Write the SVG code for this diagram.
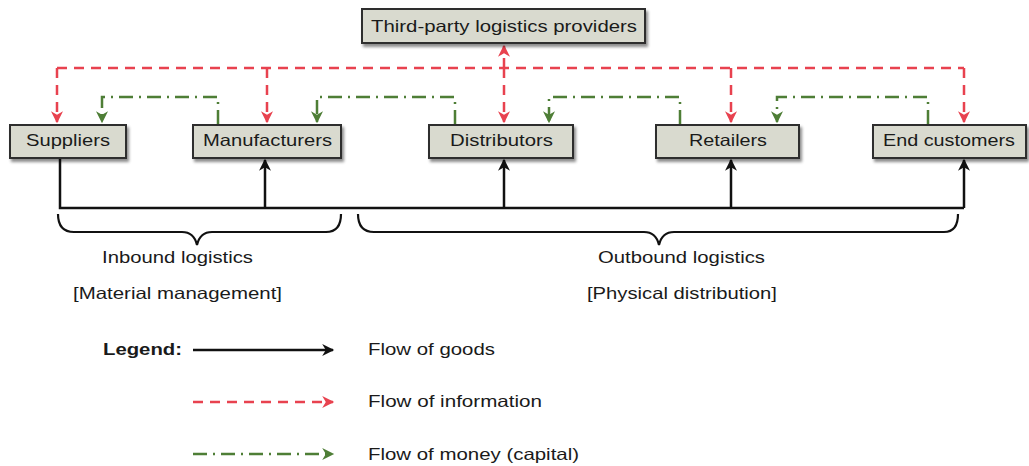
<svg xmlns="http://www.w3.org/2000/svg" width="1029" height="466" viewBox="0 0 1029 466">
<defs>
<style>
.box{fill:#d9dacf;stroke:#2e2e2e;stroke-width:2}
.t{font-family:"Liberation Sans",Arial,sans-serif;font-size:16.5px;fill:#1a1a1a}
.goods{stroke:#111;stroke-width:2.5;fill:none}
.info{stroke:#e8424f;stroke-width:2.5;fill:none;stroke-dasharray:10 7}
.money{stroke:#4e7e36;stroke-width:2.5;fill:none;stroke-dasharray:14 6 2 6}
.brace{stroke:#111;stroke-width:2.2;fill:none}
</style>
<filter id="sh" x="-10%" y="-20%" width="130%" height="160%">
<feDropShadow dx="2" dy="3" stdDeviation="1.8" flood-color="#000" flood-opacity="0.45"/>
</filter>
<marker id="ak" viewBox="0 0 10 10" refX="9" refY="5" markerWidth="13" markerHeight="12" orient="auto" markerUnits="userSpaceOnUse">
<path d="M0,0 L10,5 L0,10 L3,5 z" fill="#111"/>
</marker>
<marker id="ar" viewBox="0 0 10 10" refX="9" refY="5" markerWidth="13" markerHeight="12" orient="auto" markerUnits="userSpaceOnUse">
<path d="M0,0 L10,5 L0,10 L3,5 z" fill="#e8424f"/>
</marker>
<marker id="ag" viewBox="0 0 10 10" refX="9" refY="5" markerWidth="13" markerHeight="12" orient="auto" markerUnits="userSpaceOnUse">
<path d="M0,0 L10,5 L0,10 L3,5 z" fill="#4e7e36"/>
</marker>
</defs>
<rect width="1029" height="466" fill="#fff"/>

<g id="connectors">
<!-- information flow -->
<path class="info" d="M57,68 H964"/>
<path class="info" d="M57,68 V122" marker-end="url(#ar)"/>
<path class="info" d="M267,68 V122" marker-end="url(#ar)"/>
<path class="info" d="M504,68 V122" marker-end="url(#ar)"/>
<path class="info" d="M504,68 V46" marker-end="url(#ar)"/>
<path class="info" d="M731,68 V122" marker-end="url(#ar)"/>
<path class="info" d="M964,68 V122" marker-end="url(#ar)"/>
<!-- money flow -->
<path class="money" d="M218,124 V97 H102 V122" marker-end="url(#ag)"/>
<path class="money" d="M455,124 V97 H317 V122" marker-end="url(#ag)"/>
<path class="money" d="M680,124 V97 H549 V122" marker-end="url(#ag)"/>
<path class="money" d="M928,124 V97 H777 V122" marker-end="url(#ag)"/>
<!-- goods flow -->
<path class="goods" d="M60,159 V208 H964"/>
<path class="goods" d="M265,208 V160" marker-end="url(#ak)"/>
<path class="goods" d="M504,208 V160" marker-end="url(#ak)"/>
<path class="goods" d="M731,208 V160" marker-end="url(#ak)"/>
<path class="goods" d="M964,208 V160" marker-end="url(#ak)"/>
<!-- braces -->
<path class="brace" d="M58,214 Q58,232 74,232 H182 Q194,232 197,245 Q200,232 212,232 H326 Q341,232 341,214"/>
<path class="brace" d="M358,214 Q358,232 374,232 H644 Q656,232 659,245 Q662,232 674,232 H944 Q958,232 958,214"/>
</g>

<g id="third-party">
<rect class="box" x="362" y="9" width="283" height="34" filter="url(#sh)"/>
<text class="t" x="371" y="32" textLength="266" lengthAdjust="spacingAndGlyphs">Third-party logistics providers</text>
</g>
<g id="suppliers">
<rect class="box" x="10" y="125" width="116" height="33" filter="url(#sh)"/>
<text class="t" x="26" y="146" textLength="84" lengthAdjust="spacingAndGlyphs">Suppliers</text>
</g>
<g id="manufacturers">
<rect class="box" x="193" y="125" width="148" height="33" filter="url(#sh)"/>
<text class="t" x="203" y="146" textLength="129" lengthAdjust="spacingAndGlyphs">Manufacturers</text>
</g>
<g id="distributors">
<rect class="box" x="429" y="125" width="144" height="33" filter="url(#sh)"/>
<text class="t" x="450" y="146" textLength="103" lengthAdjust="spacingAndGlyphs">Distributors</text>
</g>
<g id="retailers">
<rect class="box" x="656" y="125" width="143" height="33" filter="url(#sh)"/>
<text class="t" x="689" y="146" textLength="78" lengthAdjust="spacingAndGlyphs">Retailers</text>
</g>
<g id="end-customers">
<rect class="box" x="873" y="125" width="153" height="33" filter="url(#sh)"/>
<text class="t" x="883" y="146" textLength="132" lengthAdjust="spacingAndGlyphs">End customers</text>
</g>

<g id="labels">
<text class="t" x="102" y="263" textLength="151" lengthAdjust="spacingAndGlyphs">Inbound logistics</text>
<text class="t" x="73" y="299" textLength="209" lengthAdjust="spacingAndGlyphs">[Material management]</text>
<text class="t" x="598" y="263" textLength="167" lengthAdjust="spacingAndGlyphs">Outbound logistics</text>
<text class="t" x="587" y="299" textLength="190" lengthAdjust="spacingAndGlyphs">[Physical distribution]</text>
</g>

<g id="legend">
<text class="t" x="103" y="355" font-weight="bold" textLength="79" lengthAdjust="spacingAndGlyphs">Legend:</text>
<path class="goods" d="M193,350 H333" marker-end="url(#ak)"/>
<text class="t" x="368" y="355" textLength="127" lengthAdjust="spacingAndGlyphs">Flow of goods</text>
<path class="info" d="M193,402 H333" marker-end="url(#ar)"/>
<text class="t" x="368" y="407" textLength="174" lengthAdjust="spacingAndGlyphs">Flow of information</text>
<path class="money" d="M193,454 H333" marker-end="url(#ag)"/>
<text class="t" x="368" y="460" textLength="211" lengthAdjust="spacingAndGlyphs">Flow of money (capital)</text>
</g>
</svg>
